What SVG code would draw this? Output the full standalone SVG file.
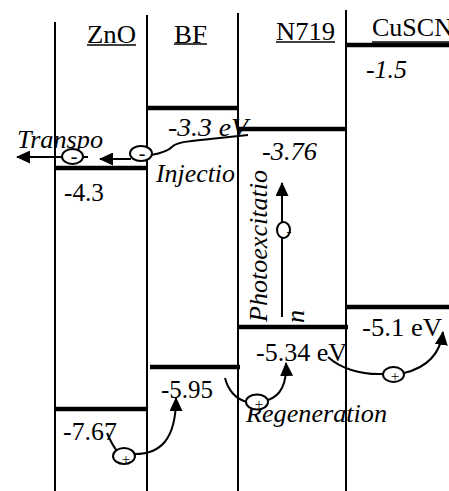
<svg xmlns="http://www.w3.org/2000/svg" width="449" height="491" viewBox="0 0 449 491">
<style>
.bg{fill:#fff}
.wall{stroke:#000;stroke-width:2;fill:none}
.lvl{stroke:#000;stroke-width:4.5;fill:none}
.ul{stroke:#000;stroke-width:1.5}
.con{stroke:#000;stroke-width:2;fill:none}
.car{stroke:#000;stroke-width:2;fill:#fff}
.t{font-family:"Liberation Serif","Times New Roman",serif;font-size:26px;fill:#000}
.ti{font-family:"Liberation Serif","Times New Roman",serif;font-size:26px;fill:#000}
.i{font-style:italic}
.s{font-family:"Liberation Serif","Times New Roman",serif;font-size:15px;fill:#000}
.m{font-family:"Liberation Serif","Times New Roman",serif;font-size:20px;fill:#000}
</style>
<defs>
<marker id="ah" markerUnits="userSpaceOnUse" markerWidth="14" markerHeight="13" refX="13" refY="6.5" orient="auto">
<path d="M0,0 L14,6.5 L0,13 z" fill="#000"/>
</marker>
</defs>
<rect class="bg" x="0" y="0" width="449" height="491"/>

<g id="ZnO">
<line class="wall" x1="55" y1="22" x2="55" y2="491"/>
<line class="lvl" x1="55" y1="168" x2="147" y2="168"/>
<line class="lvl" x1="55" y1="409" x2="147" y2="409"/>
<text class="ti" x="87" y="43" textLength="49" lengthAdjust="spacingAndGlyphs">ZnO</text>
<line class="ul" x1="87" y1="45" x2="136" y2="45"/>
<text class="t" x="64" y="201" textLength="40" lengthAdjust="spacingAndGlyphs">-4.3</text>
<text class="t" x="63" y="440" textLength="54" lengthAdjust="spacingAndGlyphs">-7.67</text>
</g>

<g id="BF">
<line class="wall" x1="147" y1="15" x2="147" y2="491"/>
<line class="lvl" x1="147" y1="108" x2="238" y2="108"/>
<line class="lvl" x1="150" y1="367" x2="240" y2="367"/>
<text class="ti" x="174" y="43" textLength="33" lengthAdjust="spacingAndGlyphs">BF</text>
<line class="ul" x1="174" y1="44" x2="207" y2="44"/>
<text class="t i" x="168" y="136" textLength="80" lengthAdjust="spacingAndGlyphs">-3.3 eV</text>
<text class="t" x="161" y="398" textLength="52" lengthAdjust="spacingAndGlyphs">-5.95</text>
</g>

<g id="N719">
<line class="wall" x1="238" y1="13" x2="238" y2="491"/>
<line class="lvl" x1="238" y1="129" x2="346" y2="129"/>
<line class="lvl" x1="238" y1="327" x2="348" y2="327"/>
<text class="ti" x="276" y="40" textLength="59" lengthAdjust="spacingAndGlyphs">N719</text>
<line class="ul" x1="276" y1="42" x2="335" y2="42"/>
<text class="t i" x="262" y="160" textLength="55" lengthAdjust="spacingAndGlyphs">-3.76</text>
<text class="t" x="256" y="361" textLength="91" lengthAdjust="spacingAndGlyphs">-5.34 eV</text>
</g>

<g id="CuSCN">
<line class="wall" x1="346" y1="10" x2="346" y2="491"/>
<line class="lvl" x1="346" y1="45" x2="449" y2="45"/>
<line class="lvl" x1="346" y1="307" x2="449" y2="307"/>
<text class="ti" x="372" y="36">CuSCN</text>
<line class="ul" x1="372" y1="42" x2="449" y2="42"/>
<text class="t i" x="366" y="78" textLength="41" lengthAdjust="spacingAndGlyphs">-1.5</text>
<text class="t" x="362" y="336" textLength="80" lengthAdjust="spacingAndGlyphs">-5.1 eV</text>
</g>

<g id="labels">
<text class="t i" x="17" y="148" textLength="86" lengthAdjust="spacingAndGlyphs">Transpo</text>
<text class="t i" x="156" y="182" textLength="79" lengthAdjust="spacingAndGlyphs">Injectio</text>
<text class="t i" transform="translate(267,322) rotate(-90)" x="0" y="0" textLength="152" lengthAdjust="spacingAndGlyphs">Photoexcitatio</text>
<text class="t i" transform="translate(304,323) rotate(-90)" x="0" y="0">n</text>
<text class="t i" x="246" y="422" textLength="141" lengthAdjust="spacingAndGlyphs">Regeneration</text>
</g>

<g id="connectors">
<line class="con" x1="88" y1="157" x2="17" y2="157" marker-end="url(#ah)"/>
<line class="con" x1="131" y1="159" x2="100" y2="159" marker-end="url(#ah)"/>
<path class="con" d="M151,155 C162,153 168,151 172,147 C176,142 190,141 210,139 L248,135"/>
<line class="con" x1="282" y1="317" x2="282" y2="183" marker-end="url(#ah)"/>
<path class="con" d="M107,433 C110,440 113,446 117,451"/>
<path class="con" d="M135,454 C160,454 176,440 176,398" marker-end="url(#ah)"/>
<path class="con" d="M225,378 C228,390 236,400 248,402"/>
<path class="con" d="M268,400 C280,396 287,385 286,363" marker-end="url(#ah)"/>
<path class="con" d="M328,357 C340,368 360,375 383,374"/>
<path class="con" d="M404,373 C425,368 440,355 443,332" marker-end="url(#ah)"/>
</g>

<g id="carriers">
<ellipse class="car" cx="141" cy="153.5" rx="11" ry="7.5"/>
<text class="m" x="142" y="160" text-anchor="middle">-</text>
<ellipse class="car" cx="72.5" cy="156.5" rx="10.5" ry="7.5"/>
<text class="m" x="74" y="163" text-anchor="middle">-</text>
<ellipse class="car" cx="283.5" cy="230" rx="6.5" ry="8"/>
<text class="s" x="289" y="236" text-anchor="middle">-</text>
<ellipse class="car" cx="124" cy="456" rx="11" ry="8"/>
<text class="s" x="126" y="464" text-anchor="middle">+</text>
<ellipse class="car" cx="257" cy="402" rx="11" ry="7.5"/>
<text class="s" x="259" y="409" text-anchor="middle">+</text>
<ellipse class="car" cx="393.5" cy="374.5" rx="10.5" ry="7.5"/>
<text class="s" x="395" y="381" text-anchor="middle">+</text>
</g>
</svg>
